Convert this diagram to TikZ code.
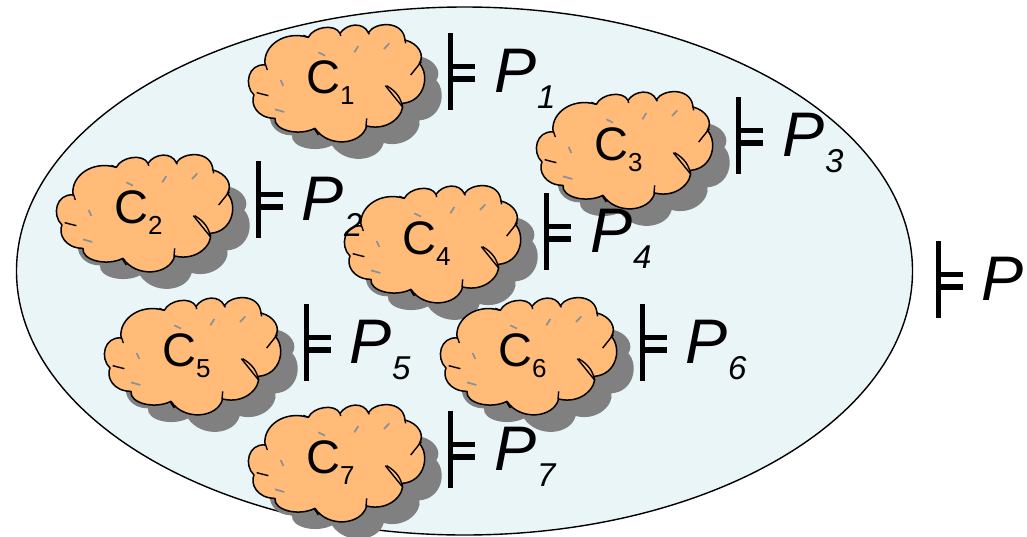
\documentclass[tikz,border=0pt]{standalone}
\usepackage{fontspec}
\setmainfont{Liberation Sans}
\definecolor{bgfill}{HTML}{E9F5F6}
\definecolor{cloudfill}{HTML}{FFBB77}
\definecolor{shadowgray}{HTML}{808080}
\definecolor{tickgray}{HTML}{8A8F99}
\newcommand{\cloudoutline}{(75,130) .. controls (70,80) and (130,30) .. (205,52)
 .. controls (220,20) and (285,10) .. (300,40)
 .. controls (320,10) and (370,5) .. (385,38)
 .. controls (405,5) and (490,0) .. (495,60)
 .. controls (535,70) and (555,105) .. (538,130)
 .. controls (570,165) and (555,245) .. (487,250)
 .. controls (495,280) and (450,335) .. (380,318)
 .. controls (365,375) and (265,385) .. (225,325)
 .. controls (175,350) and (100,330) .. (105,295)
 .. controls (50,295) and (30,250) .. (42,225)
 .. controls (10,195) and (25,130) .. (75,135) -- cycle}
\tikzset{
  x=1pt,y=-1pt,
  cloudline/.style={draw=black,line width=1.5pt,line join=round},
  tickline/.style={draw=tickgray,line width=1.7pt},
  innerline/.style={draw=black,line width=1.4pt},
  barline/.style={draw=black,line width=5.6pt},
  clabel/.style={anchor=base west,inner sep=0pt,font=\fontsize{47}{47}\selectfont},
  plabel/.style={anchor=base west,inner sep=0pt,font=\fontsize{63}{63}\selectfont\itshape},
  cloudpic/.pic={
    \begin{scope}[x=0.33333pt,y=-0.33333pt]
      \fill[shadowgray,shift={(51,51)}] \cloudoutline;
      \path[cloudline,fill=cloudfill] \cloudoutline;
      \draw[innerline] (544,125) -- (512,165);
      \draw[innerline] (76,132) -- (82,150);
      \draw[innerline] (50,218) -- (85,227);
      \draw[innerline] (436,197) -- (487,260);
      \draw[innerline] (440,197) .. controls (470,215) and (483,235) .. (487,260);
      \draw[innerline] (380,295) -- (378,320);
      \draw[innerline] (222,325) -- (235,345);
      \draw[innerline] (205,52) -- (190,46);
      \draw[innerline] (300,40) -- (302,48);
      \draw[innerline] (385,38) -- (388,43);
      \draw[innerline] (495,60) -- (497,70);
      \draw[tickline] (235,97) -- (255,107);
      \draw[tickline] (355,78) -- (343,97);
      \draw[tickline] (448,70) -- (432,87);
      \draw[tickline] (122,180) -- (130,198);
      \draw[tickline] (105,268) -- (133,276);
    \end{scope}
  },
  models/.pic={
    \draw[barline] (0,0) -- (0,77);
    \draw[barline] (0,33.5) -- (24,33.5);
    \draw[barline] (0,46) -- (24,46);
  }
}
\newcommand{\psub}[1]{P\raisebox{-16.5pt}{\hspace{1pt}\fontsize{33}{33}\selectfont #1}}
\newcommand{\csub}[1]{C\raisebox{-11pt}{\fontsize{26}{26}\selectfont #1}}
\begin{document}
\begin{tikzpicture}
\useasboundingbox (0,0) rectangle (1027,536);
\path[fill=bgfill,draw=black,line width=1.4pt] (464.5,271) ellipse [x radius=448,y radius=264];
% clouds
\pic at (240,20) {cloudpic};
\pic at (528,87) {cloudpic};
\pic at (48,150) {cloudpic};
\pic at (336,181) {cloudpic};
\pic at (96,293) {cloudpic};
\pic at (432,293) {cloudpic};
\pic at (240,400) {cloudpic};
% turnstiles
\pic at (450.5,33) {models};
\pic at (738.5,97) {models};
\pic at (258.5,161) {models};
\pic at (546.5,193) {models};
\pic at (306.5,304) {models};
\pic at (642.5,304) {models};
\pic at (450.5,411) {models};
\pic at (938.5,241) {models};
% labels
\node[clabel] (c1) at (306,93) {\csub{1}};
\node[clabel] (c3) at (594,160) {\csub{3}};
\node[clabel] (c2) at (114,223) {\csub{2}};
\node[clabel] (c4) at (402,254) {\csub{4}};
\node[clabel] (c5) at (162,366) {\csub{5}};
\node[clabel] (c6) at (498,366) {\csub{6}};
\node[clabel] (c7) at (306,473) {\csub{7}};
\node[plabel] (p1) at (494,92) {\psub{1}};
\node[plabel] (p3) at (782,156) {\psub{3}};
\node[plabel] (p2) at (301,220) {\psub{2}};
\node[plabel] (p4) at (590,252) {\psub{4}};
\node[plabel] (p5) at (349,363) {\psub{5}};
\node[plabel] (p6) at (685,363) {\psub{6}};
\node[plabel] (p7) at (494,470) {\psub{7}};
\node[plabel] (p) at (981,300) {P};
\end{tikzpicture}
\end{document}
